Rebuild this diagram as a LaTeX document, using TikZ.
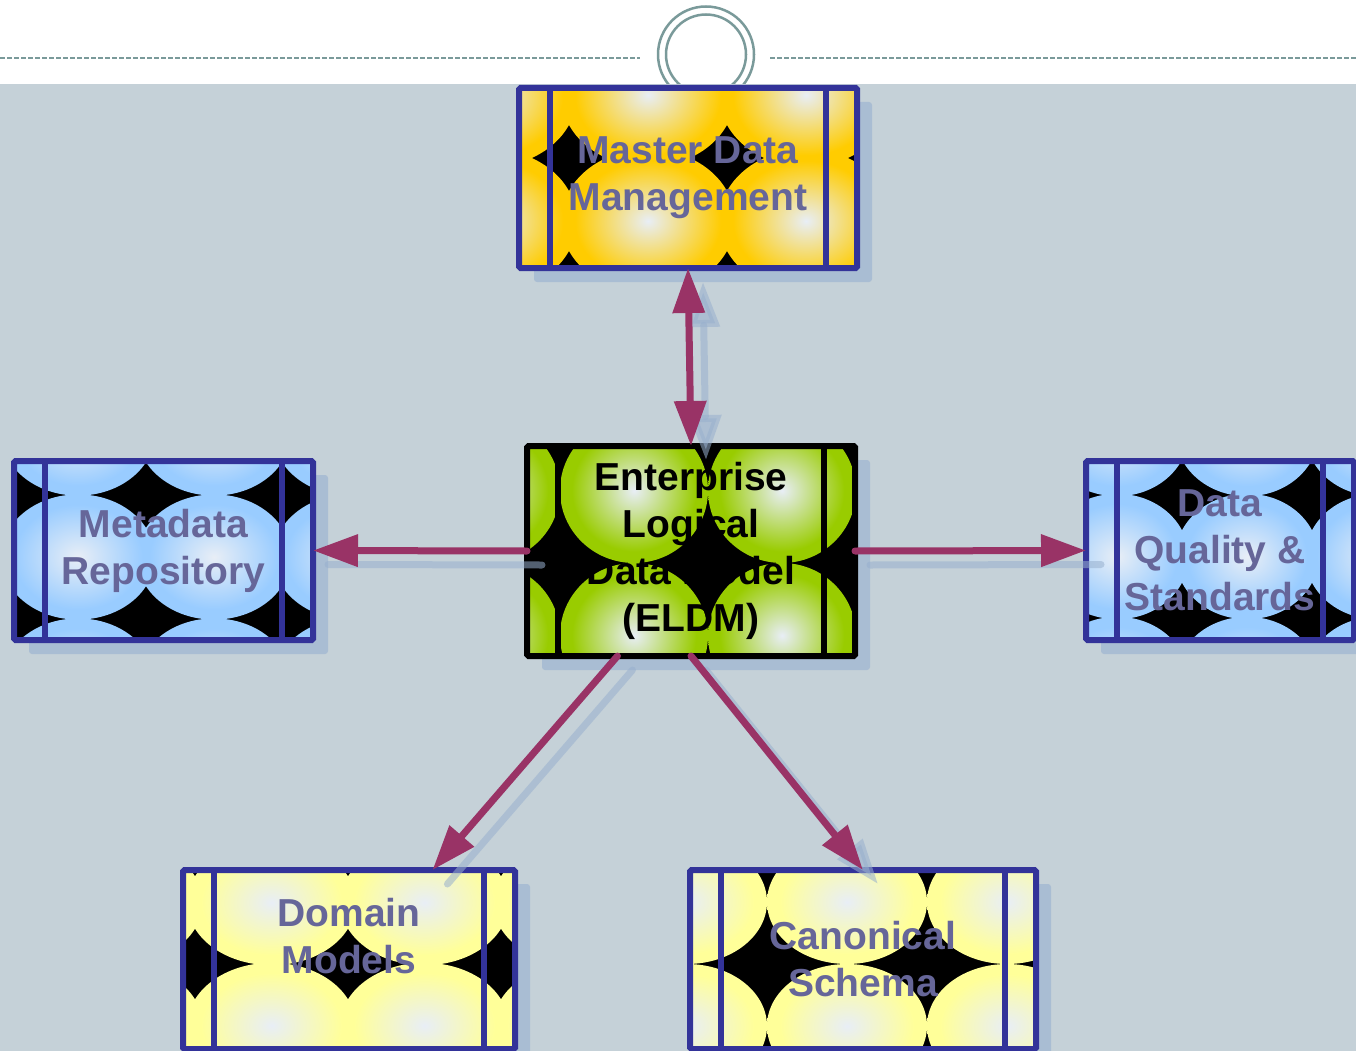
\documentclass[tikz,border=0pt]{standalone}
\usepackage{fontspec}
\setmainfont{Liberation Sans}
\usetikzlibrary{arrows.meta}
\definecolor{bgc}{HTML}{C5D1D8}
\definecolor{shadowc}{HTML}{A9BDD3}
\definecolor{shadowa}{HTML}{98B0CE}
\definecolor{navy}{HTML}{333399}
\definecolor{arrowc}{HTML}{993366}
\definecolor{txtc}{HTML}{666699}
\definecolor{dashc}{HTML}{7A9A9A}
\definecolor{hilite}{HTML}{E8EEF6}
\definecolor{gold}{HTML}{FFCC00}
\definecolor{lime}{HTML}{99CC00}
\definecolor{sky}{HTML}{99CCFF}
\definecolor{pale}{HTML}{FFFF99}
\colorlet{tilebase}{gold}
\pgfdeclareradialshading[tilebase]{spot}{\pgfpoint{0bp}{0bp}}{color(0bp)=(hilite); color(21bp)=(tilebase); color(50bp)=(tilebase)}
\pgfdeclarelayer{base}
\pgfdeclarelayer{back}
\pgfdeclarelayer{tile}
\pgfsetlayers{base,back,tile,main}
\newcommand{\tiles}[9]{%
\begin{pgfonlayer}{back}
\fill[shadowc,rounded corners=3pt] ([shift={(15,14)}]#1.north west) rectangle ([shift={(15,14)}]#1.south east);
\end{pgfonlayer}
\begin{pgfonlayer}{tile}
\colorlet{tilebase}{#8}
\begin{scope}
\clip (#1.north west) rectangle (#1.south east);
\fill[black] (#1.north west) rectangle (#1.south east);
\begin{scope}[shift={(#1.north west)}]
\foreach \i in {-2,...,1}{\foreach \j in {-1,0,1}{
\begin{scope}
\clip (#2+\i*#4,#3+\j*#5) rectangle ++(#4,#5);
\shade[shading=spot] (#2+\i*#4+#4/2,#3+\j*#5+#5/2) ellipse [x radius=#6*#4*.5pt,y radius=#7*#5*.5pt];
\end{scope}}}
\end{scope}
\end{scope}
\draw[#9,line width=6pt] ([xshift=31pt]#1.north west) -- ([xshift=31pt]#1.south west)
([xshift=-31pt]#1.north east) -- ([xshift=-31pt]#1.south east);
\draw[#9,line width=6pt,rounded corners=1.5pt] (#1.north west) rectangle (#1.south east);
\end{pgfonlayer}}
\tikzset{
box/.style={rectangle,inner sep=0pt,outer sep=0pt,align=center,text=txtc,font=\bfseries\fontsize{39}{47}\selectfont},
link/.style={draw=arrowc,line width=7pt,line cap=round,->},
ghost/.style={link,draw=shadowa,opacity=.55}
}
\begin{document}
\begin{tikzpicture}[x=1pt,y=-1pt,>={Triangle[length=45pt,width=31pt]}]
\useasboundingbox (0,0) rectangle (1356,1051);
\begin{pgfonlayer}{base}
\fill[white] (0,0) rectangle (1356,84);
\draw[dashc,line width=1.5pt,dash pattern=on 5pt off 2pt] (0,58) -- (640,58) (770,58) -- (1356,58);
\draw[dashc,line width=2.5pt] (706,54.5) circle[radius=48pt] (706,54.5) circle[radius=40pt];
\fill[bgc] (0,84) rectangle (1356,1051);
\end{pgfonlayer}
\node[box,minimum width=338,minimum height=180] (mdm) at (688,178) {Master Data\\Management};
\node[box,text=black,minimum width=328,minimum height=210] (eldm) at (691,551) {Enterprise\\Logical\\Data Model\\(ELDM)};
\node[box,minimum width=299,minimum height=179] (meta) at (163.5,550.5) {Metadata\\Repository};
\node[box,minimum width=268,minimum height=179] (dq) at (1220,550.5) {Data\\Quality \&\\Standards};
\node[box,minimum width=332,minimum height=179] (dm) at (349,959.5) {Domain\\Models\\~};
\node[box,minimum width=346,minimum height=179] (cs) at (863,959.5) {Canonical\\Schema};
\tiles{mdm}{50}{70}{158}{126}{1.10}{1.14}{gold}{navy}
\tiles{eldm}{181}{117}{148}{145}{1.0}{1.0}{lime}{black}
\tiles{meta}{132}{34}{136}{124}{1.13}{1.01}{sky}{navy}
\tiles{dq}{96}{34}{130}{123}{1.10}{1.02}{sky}{navy}
\tiles{dm}{165}{94}{153}{123}{1.10}{1.02}{pale}{navy}
\tiles{cs}{237}{94}{160}{124}{1.0}{1.0}{pale}{navy}
\begin{scope}[transform canvas={shift={(15,14)}}]
\draw[ghost] (eldm.west) -- (meta.east) (eldm.east) -- (dq.west) (eldm.235) -- (dm.47) (eldm.south) -- (cs.north);
\draw[ghost,<->] (mdm.south) -- (eldm.north);
\end{scope}
\draw[link] (eldm.west) -- (meta.east);
\draw[link] (eldm.east) -- (dq.west);
\draw[link,<->] (mdm.south) -- (eldm.north);
\draw[link] (eldm.235) -- (dm.47);
\draw[link] (eldm.south) -- (cs.north);
\end{tikzpicture}
\end{document}
